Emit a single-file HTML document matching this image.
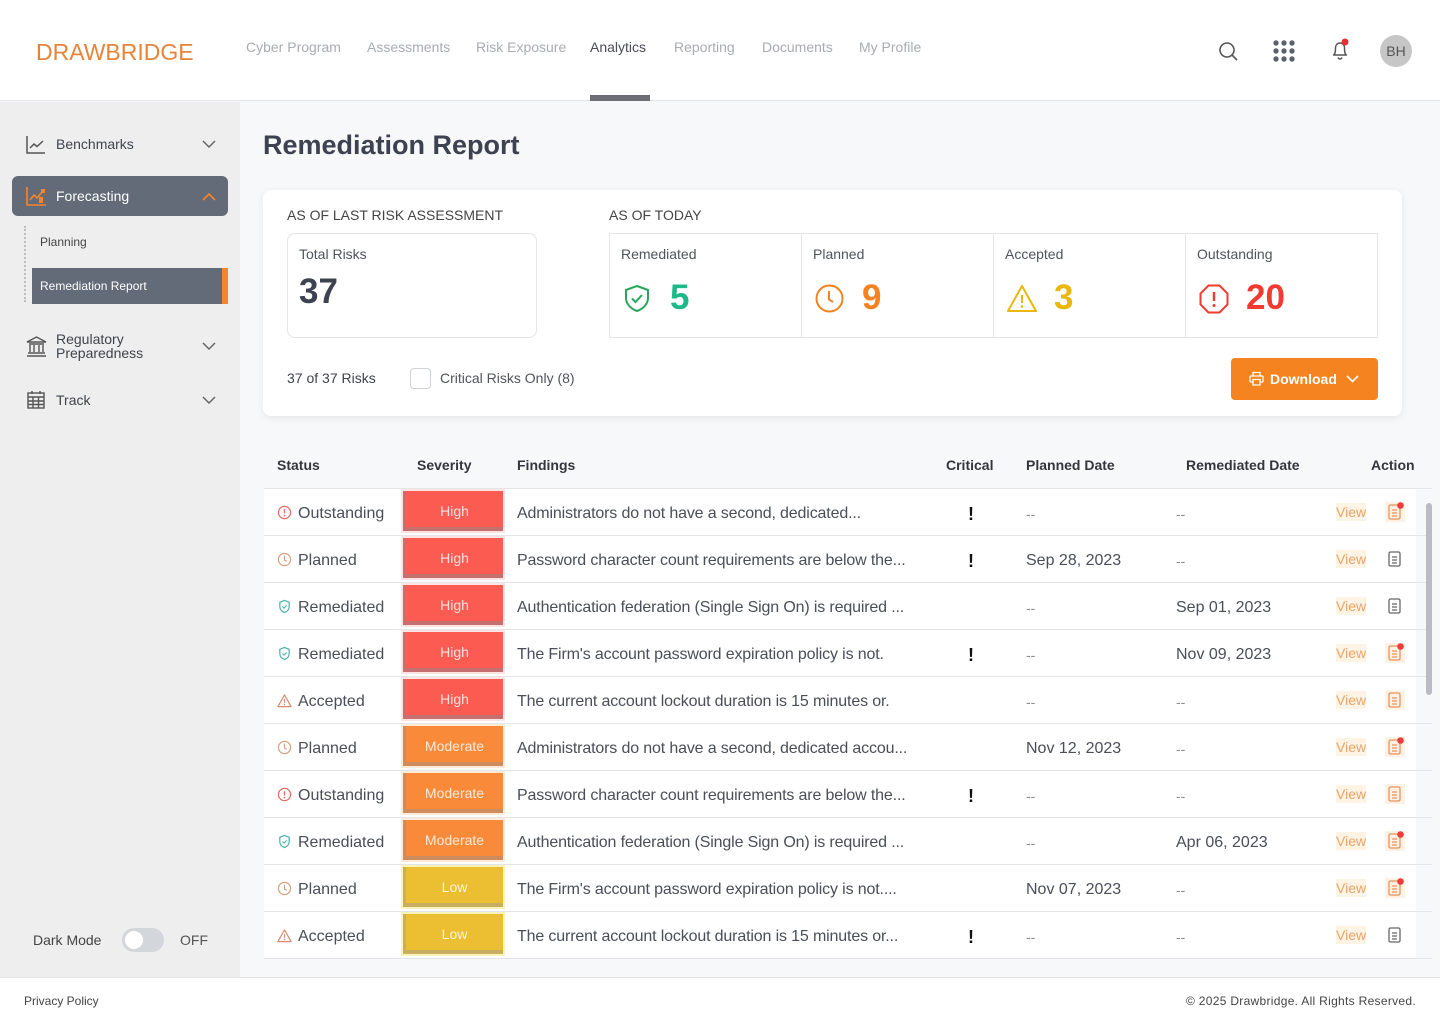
<!DOCTYPE html>
<html><head><meta charset="utf-8">
<style>
*{margin:0;padding:0;box-sizing:border-box}
body{width:1440px;height:1024px;position:relative;overflow:hidden;background:#f7f8fa;font-family:"Liberation Sans",sans-serif;color:#444}
.a{position:absolute;white-space:nowrap}
.nav{top:39px;font-size:14px;line-height:16px;color:#a9acb1}
.sb{font-size:14px;line-height:16px;color:#3f434a}
.lbl{font-size:14px;line-height:16px;color:#50545c}
.num{font-size:35px;line-height:40px;font-weight:bold;top:278px}
.th{top:457px;font-size:14px;line-height:16px;font-weight:bold;color:#33363d}
.row{position:absolute;left:0;width:1440px;height:47px}
.row .bg{position:absolute;left:264px;width:1152px;height:46px;background:#fff}
.row .ln{position:absolute;left:264px;width:1168px;top:46px;height:1px;background:#e3e5e9}
.t{position:absolute;white-space:nowrap;font-size:16px;line-height:20px;top:15px;color:#4a4e58}
.st{position:absolute;left:277px;top:16px}
.bd{position:absolute;left:403px;top:2px;width:100px;height:40px;color:rgba(255,255,255,.82);font-size:14px;line-height:40px;text-align:center;border-left:3px solid;border-bottom:4px solid}
.hi{background:#fc5b52;border-color:#c5706e;box-shadow:0 0 0 2px #fde4e2}
.mo{background:#f88a3a;border-color:#cd8b5e;box-shadow:0 0 0 2px #fdebd8}
.lo{background:#ecbf33;border-color:#c8ae60;box-shadow:0 0 0 2px #fdf3b8}
.fd{left:517px;letter-spacing:-0.15px}
.cr{left:968px;font-weight:bold;font-size:18px;color:#111;top:15px}
.pd{left:1026px}
.rd{left:1176px}
.dash{color:#8a8d94;font-size:14px}
.vw{position:absolute;left:1336px;top:14px;font-size:14px;line-height:18px;color:#e9a468;background:#fff3e4}
.dc{position:absolute;left:1385px;top:13px}
</style></head><body>

<!-- header -->
<div class="a" style="left:0;top:0;width:1440px;height:101px;background:#fff;border-bottom:1px solid #e3e5e8"></div>
<div class="a" style="left:36px;top:39px;font-size:23px;line-height:27px;color:#e8843a;letter-spacing:0;">DRAWBRIDGE</div>
<div class="a nav" style="left:246px">Cyber Program</div>
<div class="a nav" style="left:367px">Assessments</div>
<div class="a nav" style="left:476px">Risk Exposure</div>
<div class="a nav" style="left:590px;color:#4a4d55">Analytics</div>
<div class="a nav" style="left:674px">Reporting</div>
<div class="a nav" style="left:762px">Documents</div>
<div class="a nav" style="left:859px">My Profile</div>
<div class="a" style="left:590px;top:95px;width:60px;height:6px;background:#6b6e75"></div>

<svg class="a" style="left:1217px;top:40px" width="22" height="22" viewBox="0 0 22 22"><circle cx="10" cy="10" r="7" fill="none" stroke="#555" stroke-width="1.6"/><line x1="15" y1="15" x2="20" y2="20" stroke="#555" stroke-width="1.6"/></svg>
<svg class="a" style="left:1273px;top:40px" width="22" height="22" viewBox="0 0 22 22" fill="#5d6270"><circle cx="3" cy="3" r="2.7"/><circle cx="11" cy="3" r="2.7"/><circle cx="19" cy="3" r="2.7"/><circle cx="3" cy="11" r="2.7"/><circle cx="11" cy="11" r="2.7"/><circle cx="19" cy="11" r="2.7"/><circle cx="3" cy="19" r="2.7"/><circle cx="11" cy="19" r="2.7"/><circle cx="19" cy="19" r="2.7"/></svg>
<svg class="a" style="left:1329px;top:37px" width="24" height="25" viewBox="0 0 24 25"><path d="M4 18H18M5 18C6.5 16 6.5 14 6.5 11C6.5 8 8.5 6 11 6C13.5 6 15.5 8 15.5 11C15.5 14 15.5 16 17 18M9 20.5C9.5 21.5 10.2 22 11 22C11.8 22 12.5 21.5 13 20.5" fill="none" stroke="#555" stroke-width="1.4"/><circle cx="16" cy="5" r="3.5" fill="#e53030"/></svg>
<div class="a" style="left:1380px;top:35px;width:32px;height:32px;border-radius:50%;background:#c6c6c6;font-size:14px;line-height:32px;text-align:center;color:#555">BH</div>

<!-- sidebar -->
<div class="a" style="left:0;top:102px;width:240px;height:875px;background:#eeeeee"></div>
<svg class="a" style="left:26px;top:135px" width="20" height="19" viewBox="0 0 20 19"><path d="M1 1V18H19" fill="none" stroke="#555" stroke-width="1.5"/><path d="M4 13L8 9L11 11.5L17 6" fill="none" stroke="#555" stroke-width="1.5"/></svg>
<div class="a sb" style="left:56px;top:136px">Benchmarks</div>
<svg class="a" style="left:202px;top:140px" width="14" height="9"><polyline points="1,1 7,7 13,1" fill="none" stroke="#666" stroke-width="1.5"/></svg>

<div class="a" style="left:12px;top:176px;width:216px;height:40px;border-radius:6px;background:#646b78"></div>
<svg class="a" style="left:26px;top:186px" width="21" height="20" viewBox="0 0 21 20"><path d="M1 1V19H20" fill="none" stroke="#f5842a" stroke-width="1.6"/><path d="M4 14L8 9L11 12L16 6" fill="none" stroke="#f5842a" stroke-width="1.6"/><rect x="13" y="11" width="4" height="6" fill="#f5842a"/><rect x="15" y="3" width="4" height="4" fill="#f5842a"/></svg>
<div class="a sb" style="left:56px;top:188px;color:#fff">Forecasting</div>
<svg class="a" style="left:202px;top:192px" width="14" height="9"><polyline points="1,8 7,2 13,8" fill="none" stroke="#f5842a" stroke-width="1.6"/></svg>
<div class="a" style="left:24px;top:226px;height:76px;border-left:2px dotted #bdbdbd"></div>
<div class="a" style="left:40px;top:235px;font-size:12px;line-height:14px;color:#444">Planning</div>
<div class="a" style="left:32px;top:268px;width:196px;height:36px;background:#646b78"></div>
<div class="a" style="left:222px;top:268px;width:6px;height:36px;background:#f5842a"></div>
<div class="a" style="left:40px;top:279px;font-size:12px;line-height:14px;color:#fff">Remediation Report</div>

<svg class="a" style="left:26px;top:336px" width="21" height="21" viewBox="0 0 21 21"><path d="M1 6L10.5 1L20 6Z" fill="none" stroke="#555" stroke-width="1.4"/><path d="M3 8H18M4 9V16M8 9V16M13 9V16M17 9V16M2 17H19M1 20H20" fill="none" stroke="#555" stroke-width="1.4"/></svg>
<div class="a sb" style="left:56px;top:332px;line-height:14px">Regulatory<br>Preparedness</div>
<svg class="a" style="left:202px;top:342px" width="14" height="9"><polyline points="1,1 7,7 13,1" fill="none" stroke="#666" stroke-width="1.5"/></svg>

<svg class="a" style="left:27px;top:390px" width="18" height="19" viewBox="0 0 18 19"><rect x="1" y="3" width="16" height="15" fill="none" stroke="#555" stroke-width="1.4"/><path d="M1 7H17M1 11H17M1 14.5H17M6 7V18M11.5 7V18M5 1V4M13 1V4" fill="none" stroke="#555" stroke-width="1.4"/></svg>
<div class="a sb" style="left:56px;top:392px">Track</div>
<svg class="a" style="left:202px;top:396px" width="14" height="9"><polyline points="1,1 7,7 13,1" fill="none" stroke="#666" stroke-width="1.5"/></svg>

<div class="a" style="left:33px;top:932px;font-size:14px;line-height:16px;color:#444">Dark Mode</div>
<div class="a" style="left:122px;top:928px;width:42px;height:24px;border-radius:12px;background:#d3d6db"></div>
<div class="a" style="left:125px;top:931px;width:18px;height:18px;border-radius:50%;background:#fff"></div>
<div class="a" style="left:180px;top:932px;font-size:14px;line-height:16px;color:#555">OFF</div>

<!-- footer -->
<div class="a" style="left:0;top:977px;width:1440px;height:47px;background:#fff;border-top:1px solid #e6e6e6"></div>
<div class="a" style="left:24px;top:994px;font-size:12px;line-height:14px;color:#444">Privacy Policy</div>
<div class="a" style="right:24px;top:994px;font-size:12px;line-height:14px;color:#444;letter-spacing:0.3px">© 2025 Drawbridge. All Rights Reserved.</div>

<!-- title -->
<div class="a" style="left:263px;top:129px;font-size:27px;line-height:32px;font-weight:bold;color:#3d4250">Remediation Report</div>

<!-- card -->
<div class="a" style="left:263px;top:190px;width:1139px;height:226px;background:#fff;border-radius:8px;box-shadow:0 2px 8px rgba(0,0,0,.08)"></div>
<div class="a lbl" style="left:287px;top:207px;color:#444">AS OF LAST RISK ASSESSMENT</div>
<div class="a" style="left:287px;top:233px;width:250px;height:105px;border:1px solid #e4e6ea;border-radius:8px"></div>
<div class="a lbl" style="left:299px;top:246px">Total Risks</div>
<div class="a num" style="left:299px;top:272px;color:#3d4250">37</div>

<div class="a lbl" style="left:609px;top:207px;color:#444">AS OF TODAY</div>
<div class="a" style="left:609px;top:233px;width:769px;height:105px;border:1px solid #e4e6ea"></div>
<div class="a" style="left:801px;top:234px;width:1px;height:103px;background:#e4e6ea"></div>
<div class="a" style="left:993px;top:234px;width:1px;height:103px;background:#e4e6ea"></div>
<div class="a" style="left:1185px;top:234px;width:1px;height:103px;background:#e4e6ea"></div>
<div class="a lbl" style="left:621px;top:246px">Remediated</div>
<div class="a lbl" style="left:813px;top:246px">Planned</div>
<div class="a lbl" style="left:1005px;top:246px">Accepted</div>
<div class="a lbl" style="left:1197px;top:246px">Outstanding</div>

<svg class="a" style="left:623px;top:284px" width="28" height="29" viewBox="0 0 28 29"><path d="M14 2L25 6V14C25 20 20 25 14 27C8 25 3 20 3 14V6Z" fill="none" stroke="#28a65a" stroke-width="2"/><path d="M9 14.5L12.5 18L19 11" fill="none" stroke="#28a65a" stroke-width="2"/></svg>
<div class="a num" style="left:670px;color:#1db989">5</div>
<svg class="a" style="left:815px;top:284px" width="29" height="29" viewBox="0 0 29 29"><circle cx="14.5" cy="14.5" r="13" fill="none" stroke="#f5821f" stroke-width="2"/><path d="M14 7V15.5L18 18" fill="none" stroke="#f5821f" stroke-width="2"/></svg>
<div class="a num" style="left:862px;color:#f5821f">9</div>
<svg class="a" style="left:1006px;top:284px" width="32" height="29" viewBox="0 0 32 29"><path d="M16 2L30 27H2Z" fill="none" stroke="#e9b80c" stroke-width="2" stroke-linejoin="round"/><path d="M16 11V19" stroke="#e9b80c" stroke-width="2"/><circle cx="16" cy="22.5" r="1.3" fill="#e9b80c"/></svg>
<div class="a num" style="left:1054px;color:#e9b80c">3</div>
<svg class="a" style="left:1199px;top:284px" width="30" height="30" viewBox="0 0 30 30"><path d="M9.5 1.5H20.5L28.5 9.5V20.5L20.5 28.5H9.5L1.5 20.5V9.5Z" fill="none" stroke="#f23a30" stroke-width="2"/><path d="M15 8V17" stroke="#f23a30" stroke-width="2.4"/><circle cx="15" cy="21.5" r="1.5" fill="#f23a30"/></svg>
<div class="a num" style="left:1246px;color:#f23a30">20</div>

<div class="a lbl" style="left:287px;top:370px;color:#3f434a">37 of 37 Risks</div>
<div class="a" style="left:410px;top:368px;width:21px;height:21px;border:1.5px solid #cfd2d7;border-radius:4px;background:#fff"></div>
<div class="a lbl" style="left:440px;top:370px">Critical Risks Only (8)</div>

<div class="a" style="left:1231px;top:358px;width:147px;height:42px;border-radius:4px;background:#f58420"></div>
<svg class="a" style="left:1249px;top:371px" width="15" height="15" viewBox="0 0 15 15"><path d="M4 5V1.5H11V5M4 11H2A1 1 0 0 1 1 10V6A1 1 0 0 1 2 5H13A1 1 0 0 1 14 6V10A1 1 0 0 1 13 11H11M4 8.5H11V14H4Z" fill="none" stroke="#fff" stroke-width="1.3"/></svg>
<div class="a" style="left:1270px;top:371px;font-size:14px;line-height:16px;font-weight:bold;color:#fff">Download</div>
<svg class="a" style="left:1346px;top:375px" width="13" height="8"><polyline points="1,1 6.5,6.5 12,1" fill="none" stroke="#fff" stroke-width="1.6"/></svg>

<!-- table header -->
<div class="a" style="left:264px;top:488px;width:1168px;height:1px;background:#e3e5e9"></div>
<div class="a th" style="left:277px">Status</div>
<div class="a th" style="left:417px">Severity</div>
<div class="a th" style="left:517px">Findings</div>
<div class="a th" style="left:946px">Critical</div>
<div class="a th" style="left:1026px">Planned Date</div>
<div class="a th" style="left:1186px">Remediated Date</div>
<div class="a th" style="left:1371px">Action</div>

<!-- rows -->
<div class="row" style="top:489px"><div class="bg"></div><div class="ln"></div>
<svg class="st" width="15" height="15" viewBox="0 0 16 16"><circle cx="8" cy="8" r="6.5" fill="none" stroke="#e06b5e" stroke-width="1.3"/><path d="M8 4.5V9" stroke="#e06b5e" stroke-width="1.4"/><circle cx="8" cy="11.3" r=".9" fill="#e06b5e"/></svg>
<div class="t" style="left:298px">Outstanding</div>
<div class="bd hi">High</div>
<div class="t fd">Administrators do not have a second, dedicated...</div>
<div class="t cr">!</div>
<div class="t pd dash">--</div><div class="t rd dash">--</div>
<div class="vw">View</div>
<svg class="dc" width="20" height="20" viewBox="0 0 20 20"><rect width="20" height="20" fill="#fff1e4"/><rect x="4" y="3" width="11" height="14" rx="1.5" fill="none" stroke="#e9925a" stroke-width="1.3"/><path d="M7 8H12M7 11H12M7 14H12" stroke="#e9925a" stroke-width="1.2"/><circle cx="15.5" cy="3.5" r="3.3" fill="#ef3b3b"/></svg>
</div>

<div class="row" style="top:536px"><div class="bg"></div><div class="ln"></div>
<svg class="st" width="15" height="15" viewBox="0 0 16 16"><circle cx="8" cy="8" r="6.5" fill="none" stroke="#d7a27f" stroke-width="1.3"/><path d="M8 4V8.5L10.5 10" fill="none" stroke="#d7a27f" stroke-width="1.3"/></svg>
<div class="t" style="left:298px">Planned</div>
<div class="bd hi">High</div>
<div class="t fd">Password character count requirements are below the...</div>
<div class="t cr">!</div>
<div class="t pd">Sep 28, 2023</div><div class="t rd dash">--</div>
<div class="vw">View</div>
<svg class="dc" width="20" height="20" viewBox="0 0 20 20"><rect x="4" y="3" width="11" height="14" rx="1.5" fill="none" stroke="#666" stroke-width="1.3"/><path d="M7 8H12M7 11H12M7 14H12" stroke="#666" stroke-width="1.2"/></svg>
</div>

<div class="row" style="top:583px"><div class="bg"></div><div class="ln"></div>
<svg class="st" width="15" height="15" viewBox="0 0 16 16"><path d="M8 1.5L13 3.5V8C13 11 11 13.3 8 14.5C5 13.3 3 11 3 8V3.5Z" fill="none" stroke="#4db3aa" stroke-width="1.3"/><path d="M5.8 8L7.5 9.7L10.3 6.8" fill="none" stroke="#4db3aa" stroke-width="1.2"/></svg>
<div class="t" style="left:298px">Remediated</div>
<div class="bd hi">High</div>
<div class="t fd">Authentication federation (Single Sign On) is required ...</div>
<div class="t pd dash">--</div><div class="t rd">Sep 01, 2023</div>
<div class="vw">View</div>
<svg class="dc" width="20" height="20" viewBox="0 0 20 20"><rect x="4" y="3" width="11" height="14" rx="1.5" fill="none" stroke="#666" stroke-width="1.3"/><path d="M7 8H12M7 11H12M7 14H12" stroke="#666" stroke-width="1.2"/></svg>
</div>

<div class="row" style="top:630px"><div class="bg"></div><div class="ln"></div>
<svg class="st" width="15" height="15" viewBox="0 0 16 16"><path d="M8 1.5L13 3.5V8C13 11 11 13.3 8 14.5C5 13.3 3 11 3 8V3.5Z" fill="none" stroke="#4db3aa" stroke-width="1.3"/><path d="M5.8 8L7.5 9.7L10.3 6.8" fill="none" stroke="#4db3aa" stroke-width="1.2"/></svg>
<div class="t" style="left:298px">Remediated</div>
<div class="bd hi">High</div>
<div class="t fd">The Firm's account password expiration policy is not.</div>
<div class="t cr">!</div>
<div class="t pd dash">--</div><div class="t rd">Nov 09, 2023</div>
<div class="vw">View</div>
<svg class="dc" width="20" height="20" viewBox="0 0 20 20"><rect width="20" height="20" fill="#fff1e4"/><rect x="4" y="3" width="11" height="14" rx="1.5" fill="none" stroke="#e9925a" stroke-width="1.3"/><path d="M7 8H12M7 11H12M7 14H12" stroke="#e9925a" stroke-width="1.2"/><circle cx="15.5" cy="3.5" r="3.3" fill="#ef3b3b"/></svg>
</div>

<div class="row" style="top:677px"><div class="bg"></div><div class="ln"></div>
<svg class="st" width="15" height="15" viewBox="0 0 16 16"><path d="M8 2L15 14.5H1Z" fill="none" stroke="#d98b6e" stroke-width="1.3" stroke-linejoin="round"/><path d="M8 6.5V10.5" stroke="#d98b6e" stroke-width="1.3"/><circle cx="8" cy="12.3" r=".8" fill="#d98b6e"/></svg>
<div class="t" style="left:298px">Accepted</div>
<div class="bd hi">High</div>
<div class="t fd">The current account lockout duration is 15 minutes or.</div>
<div class="t pd dash">--</div><div class="t rd dash">--</div>
<div class="vw">View</div>
<svg class="dc" width="20" height="20" viewBox="0 0 20 20"><rect width="20" height="20" fill="#fff1e4"/><rect x="4" y="3" width="11" height="14" rx="1.5" fill="none" stroke="#e9925a" stroke-width="1.3"/><path d="M7 8H12M7 11H12M7 14H12" stroke="#e9925a" stroke-width="1.2"/></svg>
</div>

<div class="row" style="top:724px"><div class="bg"></div><div class="ln"></div>
<svg class="st" width="15" height="15" viewBox="0 0 16 16"><circle cx="8" cy="8" r="6.5" fill="none" stroke="#d7a27f" stroke-width="1.3"/><path d="M8 4V8.5L10.5 10" fill="none" stroke="#d7a27f" stroke-width="1.3"/></svg>
<div class="t" style="left:298px">Planned</div>
<div class="bd mo">Moderate</div>
<div class="t fd">Administrators do not have a second, dedicated accou...</div>
<div class="t pd">Nov 12, 2023</div><div class="t rd dash">--</div>
<div class="vw">View</div>
<svg class="dc" width="20" height="20" viewBox="0 0 20 20"><rect width="20" height="20" fill="#fff1e4"/><rect x="4" y="3" width="11" height="14" rx="1.5" fill="none" stroke="#e9925a" stroke-width="1.3"/><path d="M7 8H12M7 11H12M7 14H12" stroke="#e9925a" stroke-width="1.2"/><circle cx="15.5" cy="3.5" r="3.3" fill="#ef3b3b"/></svg>
</div>

<div class="row" style="top:771px"><div class="bg"></div><div class="ln"></div>
<svg class="st" width="15" height="15" viewBox="0 0 16 16"><circle cx="8" cy="8" r="6.5" fill="none" stroke="#e06b5e" stroke-width="1.3"/><path d="M8 4.5V9" stroke="#e06b5e" stroke-width="1.4"/><circle cx="8" cy="11.3" r=".9" fill="#e06b5e"/></svg>
<div class="t" style="left:298px">Outstanding</div>
<div class="bd mo">Moderate</div>
<div class="t fd">Password character count requirements are below the...</div>
<div class="t cr">!</div>
<div class="t pd dash">--</div><div class="t rd dash">--</div>
<div class="vw">View</div>
<svg class="dc" width="20" height="20" viewBox="0 0 20 20"><rect width="20" height="20" fill="#fff1e4"/><rect x="4" y="3" width="11" height="14" rx="1.5" fill="none" stroke="#e9925a" stroke-width="1.3"/><path d="M7 8H12M7 11H12M7 14H12" stroke="#e9925a" stroke-width="1.2"/></svg>
</div>

<div class="row" style="top:818px"><div class="bg"></div><div class="ln"></div>
<svg class="st" width="15" height="15" viewBox="0 0 16 16"><path d="M8 1.5L13 3.5V8C13 11 11 13.3 8 14.5C5 13.3 3 11 3 8V3.5Z" fill="none" stroke="#4db3aa" stroke-width="1.3"/><path d="M5.8 8L7.5 9.7L10.3 6.8" fill="none" stroke="#4db3aa" stroke-width="1.2"/></svg>
<div class="t" style="left:298px">Remediated</div>
<div class="bd mo">Moderate</div>
<div class="t fd">Authentication federation (Single Sign On) is required ...</div>
<div class="t pd dash">--</div><div class="t rd">Apr 06, 2023</div>
<div class="vw">View</div>
<svg class="dc" width="20" height="20" viewBox="0 0 20 20"><rect width="20" height="20" fill="#fff1e4"/><rect x="4" y="3" width="11" height="14" rx="1.5" fill="none" stroke="#e9925a" stroke-width="1.3"/><path d="M7 8H12M7 11H12M7 14H12" stroke="#e9925a" stroke-width="1.2"/><circle cx="15.5" cy="3.5" r="3.3" fill="#ef3b3b"/></svg>
</div>

<div class="row" style="top:865px"><div class="bg"></div><div class="ln"></div>
<svg class="st" width="15" height="15" viewBox="0 0 16 16"><circle cx="8" cy="8" r="6.5" fill="none" stroke="#d7a27f" stroke-width="1.3"/><path d="M8 4V8.5L10.5 10" fill="none" stroke="#d7a27f" stroke-width="1.3"/></svg>
<div class="t" style="left:298px">Planned</div>
<div class="bd lo">Low</div>
<div class="t fd">The Firm's account password expiration policy is not....</div>
<div class="t pd">Nov 07, 2023</div><div class="t rd dash">--</div>
<div class="vw">View</div>
<svg class="dc" width="20" height="20" viewBox="0 0 20 20"><rect width="20" height="20" fill="#fff1e4"/><rect x="4" y="3" width="11" height="14" rx="1.5" fill="none" stroke="#e9925a" stroke-width="1.3"/><path d="M7 8H12M7 11H12M7 14H12" stroke="#e9925a" stroke-width="1.2"/><circle cx="15.5" cy="3.5" r="3.3" fill="#ef3b3b"/></svg>
</div>

<div class="row" style="top:912px"><div class="bg"></div><div class="ln"></div>
<svg class="st" width="15" height="15" viewBox="0 0 16 16"><path d="M8 2L15 14.5H1Z" fill="none" stroke="#d98b6e" stroke-width="1.3" stroke-linejoin="round"/><path d="M8 6.5V10.5" stroke="#d98b6e" stroke-width="1.3"/><circle cx="8" cy="12.3" r=".8" fill="#d98b6e"/></svg>
<div class="t" style="left:298px">Accepted</div>
<div class="bd lo">Low</div>
<div class="t fd">The current account lockout duration is 15 minutes or...</div>
<div class="t cr">!</div>
<div class="t pd dash">--</div><div class="t rd dash">--</div>
<div class="vw">View</div>
<svg class="dc" width="20" height="20" viewBox="0 0 20 20"><rect x="4" y="3" width="11" height="14" rx="1.5" fill="none" stroke="#666" stroke-width="1.3"/><path d="M7 8H12M7 11H12M7 14H12" stroke="#666" stroke-width="1.2"/></svg>
</div>

<!-- scrollbar -->
<div class="a" style="left:1426px;top:503px;width:6px;height:192px;border-radius:3px;background:#b9bdc3"></div>

</body></html>
